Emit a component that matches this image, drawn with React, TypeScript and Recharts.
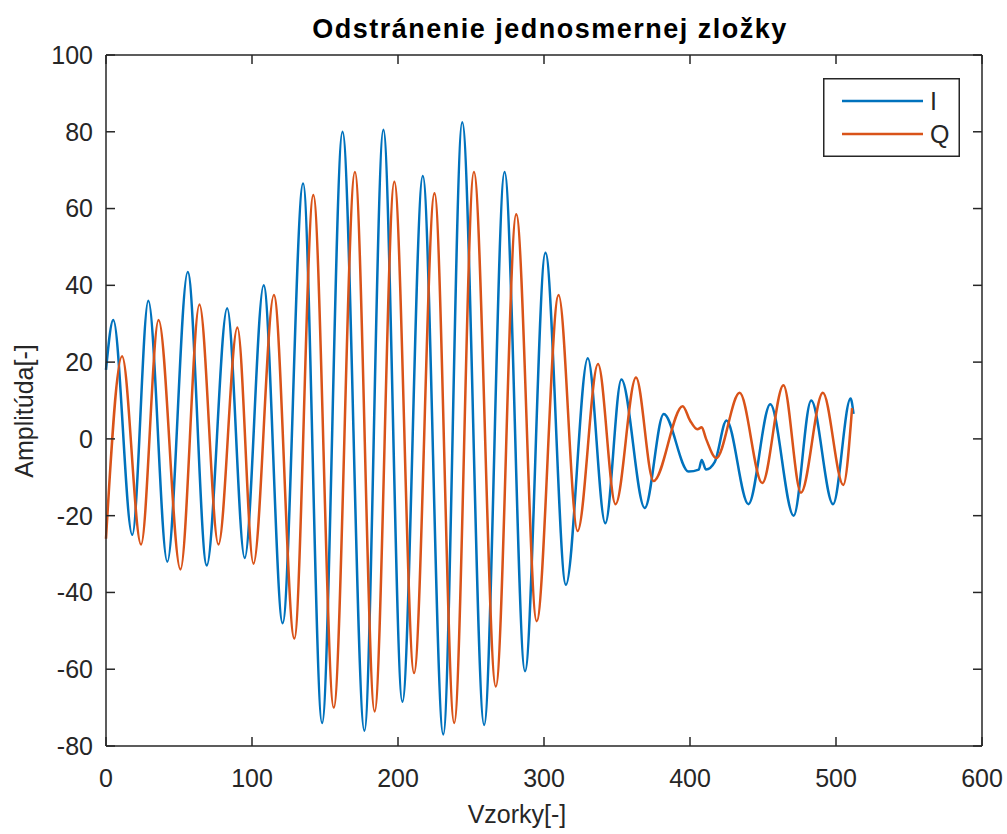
import { LineChart, Line, XAxis, YAxis, Legend } from 'recharts';

// samples (x) and amplitudes (y), at peaks/troughs
const iSamples = [0, 5, 18, 29, 42, 56, 69, 83, 95, 108, 121, 135, 148, 162, 177, 190, 203, 217, 231, 244, 259, 273, 287, 301, 315, 330, 342, 353, 369, 382, 399, 406, 408, 411, 417, 425, 440, 455, 471, 483, 498, 510, 512];
const iValues = [18, 31, -25, 36, -32, 43.5, -33, 34, -31, 40, -48, 66.5, -74, 80, -76, 80.5, -68.5, 68.5, -77, 82.5, -74.5, 69.5, -60.5, 48.5, -38, 21, -22, 15.5, -18, 6.5, -8.5, -8, -5.5, -8, -6, 4.8, -17, 9, -20, 10, -17, 10.5, 6.5];

const qSamples = [0, 11, 24, 36, 51, 64, 77, 90, 101, 115, 129, 142, 156, 170.5, 184, 197.5, 211, 225, 238.5, 252, 267, 281, 295, 310, 323, 337, 349, 363, 375, 395, 400, 405, 408, 411, 418, 434, 449.5, 464, 476, 491, 505, 511];
const qValues = [-26, 21.5, -27.5, 31, -34, 35, -27.5, 29, -32.5, 37.5, -52, 63.5, -70, 69.5, -71, 67, -61, 64, -74, 69.5, -64.5, 58.5, -47.5, 37.5, -24, 19.5, -17, 16, -11, 8.5, 4.8, 2.5, 3, 0, -5, 12, -11.5, 14, -14, 12, -12, 8];

const sampleTicks = [0, 100, 200, 300, 400, 500, 600];
const amplitudeTicks = [-80, -60, -40, -20, 0, 20, 40, 60, 80, 100];

const iData = iSamples.map((x, k) => ({ x, y: iValues[k] }));
const qData = qSamples.map((x, k) => ({ x, y: qValues[k] }));

const FONT = '"Liberation Sans", Arial, sans-serif';
const INK = '#262626';
const tickStyle = { fill: INK, fontSize: 25, fontFamily: FONT };

const ChartTitle = () => (
  <text x={550} y={38} textAnchor="middle" fontFamily={FONT} fontSize={27} fontWeight="bold" letterSpacing={1.5} fill="#000">
    Odstránenie jednosmernej zložky
  </text>
);

const XTitle = () => (
  <text x={517} y={823} textAnchor="middle" fontFamily={FONT} fontSize={25} fill={INK}>
    Vzorky[-]
  </text>
);

const YTitle = () => (
  <text x={33} y={411} transform="rotate(-90, 33, 411)" textAnchor="middle" fontFamily={FONT} fontSize={25} fill={INK}>
    Amplitúda[-]
  </text>
);

const LegendBox = (props: any) => {
  const items = (props.payload || []).filter((p: any) => p.type !== 'none');
  return (
    <svg width={137} height={79} style={{ display: 'block' }}>
      <rect x={0.75} y={0.75} width={135.5} height={77.5} fill="#fff" stroke={INK} strokeWidth={1.5} />
      {items.map((p: any, k: number) => (
        <g key={p.value}>
          <line x1={19} x2={100} y1={23 + k * 33} y2={23 + k * 33} stroke={p.color} strokeWidth={2.5} />
          <text x={107} y={32 + k * 33} fontFamily={FONT} fontSize={25} fill={INK}>
            {p.value}
          </text>
        </g>
      ))}
    </svg>
  );
};

export default function App() {
  return (
    <div style={{ position: 'absolute', left: 0, top: 0, background: '#fff' }}>
      <LineChart width={1007} height={834} margin={{ top: 54, right: 24, bottom: 0, left: 0 }}>
        <XAxis
          dataKey="x"
          type="number"
          domain={[0, 600]}
          ticks={sampleTicks}
          interval={0}
          height={88}
          tickSize={-9}
          tickMargin={32}
          stroke={INK}
          strokeWidth={1.5}
          tick={tickStyle}
          label={<XTitle />}
        />
        <XAxis
          xAxisId="top"
          dataKey="x"
          orientation="top"
          type="number"
          domain={[0, 600]}
          ticks={sampleTicks}
          interval={0}
          height={1}
          tickSize={-9}
          tickFormatter={() => ''}
          stroke={INK}
          strokeWidth={1.5}
          label={<ChartTitle />}
        />
        <YAxis
          type="number"
          domain={[-80, 100]}
          ticks={amplitudeTicks}
          interval={0}
          width={106}
          tickSize={-9}
          tickMargin={22}
          stroke={INK}
          strokeWidth={1.5}
          tick={tickStyle}
          label={<YTitle />}
        />
        <YAxis
          yAxisId="right"
          orientation="right"
          type="number"
          domain={[-80, 100]}
          ticks={amplitudeTicks}
          interval={0}
          width={1}
          tickSize={-9}
          tickFormatter={() => ''}
          stroke={INK}
          strokeWidth={1.5}
        />
        <Legend
          verticalAlign="middle"
          layout="horizontal"
          align="center"
          content={<LegendBox />}
          wrapperStyle={{ left: 823, top: 78, width: 137, height: 79, right: 'auto', bottom: 'auto' }}
        />
        {/* invisible copy so the top/right box axes get drawn */}
        <Line data={iData} dataKey="y" xAxisId="top" yAxisId="right" stroke="none" legendType="none" dot={false} activeDot={false} isAnimationActive={false} />
        <Line data={iData} dataKey="y" name="I" type="monotone" stroke="#0072BD" strokeWidth={2.5} dot={false} activeDot={false} isAnimationActive={false} />
        <Line data={qData} dataKey="y" name="Q" type="monotone" stroke="#D95319" strokeWidth={2.5} dot={false} activeDot={false} isAnimationActive={false} />
      </LineChart>
    </div>
  );
}
